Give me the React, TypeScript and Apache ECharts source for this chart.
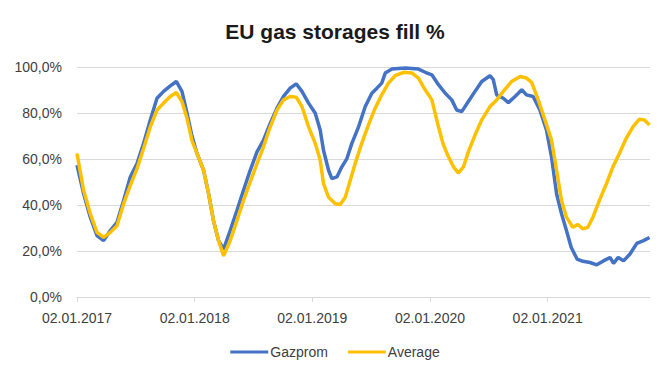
import React, { useEffect, useRef } from "react";
import * as echarts from "echarts";

// x values are fractional years measured from 02.01 of each year
const gazpromTime = [
  2017.0, 2017.056, 2017.113, 2017.17, 2017.226, 2017.283, 2017.34, 2017.396, 2017.453, 2017.51,
  2017.566, 2017.623, 2017.68, 2017.736, 2017.793, 2017.844, 2017.892, 2017.935, 2017.977,
  2018.02, 2018.076, 2018.118, 2018.16, 2018.203, 2018.246, 2018.302, 2018.359, 2018.415,
  2018.472, 2018.53, 2018.585, 2018.642, 2018.7, 2018.755, 2018.812, 2018.863, 2018.912,
  2018.968, 2019.025, 2019.067, 2019.095, 2019.138, 2019.166, 2019.209, 2019.251, 2019.294,
  2019.336, 2019.393, 2019.45, 2019.506, 2019.549, 2019.59, 2019.62, 2019.676, 2019.79,
  2019.902, 2019.96, 2020.016, 2020.072, 2020.13, 2020.185, 2020.227, 2020.27, 2020.326,
  2020.383, 2020.44, 2020.51, 2020.538, 2020.567, 2020.623, 2020.666, 2020.723, 2020.78,
  2020.82, 2020.877, 2020.934, 2020.99, 2021.033, 2021.076, 2021.118, 2021.16, 2021.2,
  2021.25, 2021.3, 2021.36, 2021.417, 2021.474, 2021.53, 2021.56, 2021.6, 2021.645, 2021.7,
  2021.758, 2021.815, 2021.866,
];
const gazpromFill = [
  57.3, 45, 34.7, 26.7, 24.5, 28.9, 32.5, 42, 52.2, 58,
  66.8, 77, 86.4, 89.4, 91.8, 93.7, 89.4, 79.9, 70,
  62.4, 55.1, 45, 33.2, 24.5, 20.8, 28.9, 37.6, 46.4,
  55.1, 63.1, 68.2, 75.5, 82.1, 87.2, 90.8, 92.7, 89.4,
  84.3, 79.9, 72.6, 63.8, 55.1, 51.5, 52.2, 56.6, 60.2,
  66.8, 74, 82.8, 88.6, 90.8, 93, 97.4, 99.1, 99.6,
  99.1, 97.7, 96.6, 92.3, 88.6, 85.7, 81.3, 80.6, 85,
  89.4, 93.7, 96.2, 94.5, 87.9, 86.4, 84.5, 87.2, 90.1,
  87.9, 87.2, 81.3, 72.6, 60.9, 44.9, 36.2, 28.9, 21.6,
  16.5, 15.5, 15, 14, 15.7, 17.2, 14.6, 17.2, 15.7, 18.7,
  23.3, 24.5, 25.9,
];

const averageTime = [
  2017.0, 2017.056, 2017.113, 2017.17, 2017.226, 2017.283, 2017.34, 2017.396, 2017.453, 2017.51,
  2017.566, 2017.623, 2017.68, 2017.736, 2017.793, 2017.844, 2017.892, 2017.935, 2017.977,
  2018.02, 2018.076, 2018.118, 2018.16, 2018.203, 2018.246, 2018.302, 2018.359, 2018.415,
  2018.472, 2018.53, 2018.585, 2018.642, 2018.7, 2018.755, 2018.812, 2018.863, 2018.912,
  2018.968, 2019.025, 2019.067, 2019.095, 2019.138, 2019.195, 2019.237, 2019.28, 2019.322,
  2019.364, 2019.42, 2019.477, 2019.534, 2019.59, 2019.647, 2019.704, 2019.775, 2019.846,
  2019.902, 2019.959, 2020.016, 2020.072, 2020.11, 2020.15, 2020.2, 2020.24, 2020.285,
  2020.326, 2020.383, 2020.44, 2020.51, 2020.567, 2020.623, 2020.694, 2020.765, 2020.82,
  2020.864, 2020.92, 2020.977, 2021.033, 2021.076, 2021.118, 2021.16, 2021.214, 2021.257,
  2021.3, 2021.342, 2021.385, 2021.44, 2021.5, 2021.555, 2021.61, 2021.668, 2021.725,
  2021.78, 2021.823, 2021.866,
];
const averageFill = [
  62.4, 46.4, 36.2, 28.1, 25.9, 28.1, 31, 40.5, 48.5, 55.8,
  64.6, 74, 81.3, 84.3, 87.2, 88.9, 85, 77.7, 68,
  62.4, 55.1, 45, 33.2, 24.5, 17.9, 24.5, 33.2, 42,
  50, 58, 65.3, 74, 81.3, 85.7, 87.2, 86.9, 82.8,
  74, 66.8, 59.5, 49.3, 43.4, 40.5, 40.2, 43.4, 50.7,
  58, 66.8, 74.8, 82.1, 87.9, 93, 96.2, 97.7, 97.4,
  95.2, 90.1, 85.7, 74, 66.8, 61.7, 56.6, 53.9, 56.6,
  63.1, 70.4, 77, 82.8, 85.7, 89.4, 93.7, 95.9, 95.2,
  93.3, 85.7, 77, 68.2, 55.1, 42, 34.7, 30.3, 31.5,
  29.6, 30.3, 34.7, 42, 49.3, 56.6, 62.4, 69, 74,
  77.3, 77, 74.8,
];

const yearTicks = [2017, 2018, 2019, 2020, 2021];

export default function App() {
  const ref = useRef<HTMLDivElement>(null);
  useEffect(() => {
    if (!ref.current) return;
    const chart = echarts.init(ref.current, null, { renderer: "svg" });
    const font = "'Liberation Sans', Arial, sans-serif";
    chart.setOption({
      animation: false,
      backgroundColor: "#ffffff",
      title: {
        text: "EU gas storages fill %",
        left: "center",
        top: 16,
        textStyle: { fontFamily: font, fontSize: 21, fontWeight: "bold", color: "#1a1a1a" },
      },
      legend: {
        bottom: 16,
        left: "center",
        icon: "rect",
        itemWidth: 38,
        itemHeight: 3,
        itemGap: 20,
        textStyle: { fontFamily: font, fontSize: 14, color: "#404040", padding: [0, 0, 0, -3] },
        data: ["Gazprom", "Average"],
      },
      grid: { left: 77, right: 20, top: 67, bottom: 83 },
      xAxis: {
        type: "value",
        min: 2017,
        max: 2021.87,
        interval: 1,
        axisLine: { show: true, lineStyle: { color: "#d9d9d9", width: 1 } },
        axisTick: { show: true, length: 5, lineStyle: { color: "#d9d9d9" }, customValues: yearTicks },
        splitLine: { show: false },
        axisLabel: {
          customValues: yearTicks,
          margin: 14,
          fontFamily: font,
          fontSize: 14,
          color: "#404040",
          formatter: (v: number) => "02.01." + Math.round(v),
        },
      },
      yAxis: {
        type: "value",
        min: 0,
        max: 100,
        interval: 20,
        axisLine: { show: false },
        axisTick: { show: false },
        splitLine: { lineStyle: { color: "#d9d9d9", width: 1 } },
        axisLabel: {
          margin: 15,
          fontFamily: font,
          fontSize: 14,
          color: "#404040",
          formatter: (v: number) => v.toFixed(1).replace(".", ",") + "%",
        },
      },
      series: [
        {
          name: "Gazprom",
          type: "line",
          showSymbol: false,
          symbol: "none",
          lineStyle: { color: "#4472C4", width: 3.5 },
          itemStyle: { color: "#4472C4" },
          data: gazpromTime.map((t, i) => [t, gazpromFill[i]]),
        },
        {
          name: "Average",
          type: "line",
          showSymbol: false,
          symbol: "none",
          lineStyle: { color: "#FFC000", width: 3.5 },
          itemStyle: { color: "#FFC000" },
          data: averageTime.map((t, i) => [t, averageFill[i]]),
        },
      ],
    });
    return () => chart.dispose();
  }, []);
  return <div ref={ref} style={{ width: 670, height: 380, position: "absolute", left: 0, top: 0 }} />;
}
